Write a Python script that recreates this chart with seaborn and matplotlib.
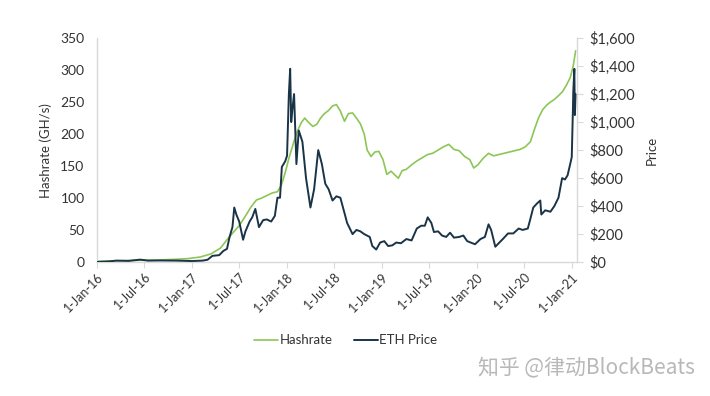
import pandas as pd
import seaborn as sns
import matplotlib.pyplot as plt
import matplotlib.dates as mdates
from matplotlib.ticker import FuncFormatter, MultipleLocator

# hashrate series (GH/s)
hash_dates = [
    "2016-01-01", "2016-03-01", "2016-05-01", "2016-07-01", "2016-09-01", "2016-11-01",
    "2016-12-15", "2017-02-01", "2017-03-15", "2017-04-20", "2017-05-15", "2017-06-05",
    "2017-07-01", "2017-07-25", "2017-08-15", "2017-09-05", "2017-09-25", "2017-10-15",
    "2017-11-05", "2017-11-25", "2017-12-10", "2017-12-25", "2018-01-10", "2018-01-25",
    "2018-02-10", "2018-02-25", "2018-03-10", "2018-03-25", "2018-04-10", "2018-04-25",
    "2018-05-10", "2018-05-25", "2018-06-10", "2018-06-25", "2018-07-10", "2018-07-25",
    "2018-08-10", "2018-08-25", "2018-09-10", "2018-09-25", "2018-10-10", "2018-10-25",
    "2018-11-05", "2018-11-20", "2018-12-05", "2018-12-20", "2019-01-05", "2019-01-20",
    "2019-02-05", "2019-02-20", "2019-03-05", "2019-03-20", "2019-04-05", "2019-04-25",
    "2019-05-15", "2019-06-05", "2019-06-25", "2019-07-15", "2019-08-05", "2019-08-25",
    "2019-09-15", "2019-10-05", "2019-10-25", "2019-11-15", "2019-12-05", "2019-12-20",
    "2020-01-05", "2020-01-25", "2020-02-15", "2020-03-05", "2020-03-25", "2020-04-15",
    "2020-05-05", "2020-05-25", "2020-06-15", "2020-07-05", "2020-07-25", "2020-08-10",
    "2020-08-25", "2020-09-10", "2020-09-25", "2020-10-10", "2020-10-25", "2020-11-10",
    "2020-11-25", "2020-12-10", "2020-12-25", "2021-01-05", "2021-01-15",
]
hash_vals = [
    1.5, 2, 2.5, 3, 3.5, 4.5,
    5.5, 8, 13, 22, 35, 45,
    57, 72, 86, 97, 100, 104,
    108, 110, 120, 140, 165, 185,
    205, 218, 225, 218, 212, 215,
    225, 232, 237, 244, 246, 236,
    220, 232, 233, 225, 216, 200,
    175, 165, 172, 173, 160, 137,
    142, 136, 131, 143, 145, 152,
    158, 163, 168, 170, 175, 180,
    184, 176, 174, 165, 160, 147,
    152, 162, 170, 166, 168, 170,
    172, 174, 176, 180, 188, 208,
    225, 238, 245, 250, 254, 260,
    266, 276, 288, 305, 330,
]

# ETH price series (USD)
price_dates = [
    "2016-01-01", "2016-02-15", "2016-03-15", "2016-05-01", "2016-06-15", "2016-07-15",
    "2016-09-01", "2016-11-01", "2017-01-01", "2017-02-10", "2017-03-01", "2017-03-20",
    "2017-04-15", "2017-05-01", "2017-05-15", "2017-05-25", "2017-06-05", "2017-06-12",
    "2017-06-20", "2017-07-01", "2017-07-16", "2017-07-25", "2017-08-10", "2017-08-20",
    "2017-09-01", "2017-09-15", "2017-10-01", "2017-10-15", "2017-11-01", "2017-11-15",
    "2017-11-25", "2017-12-05", "2017-12-12", "2017-12-25", "2018-01-01", "2018-01-08",
    "2018-01-13", "2018-01-17", "2018-01-22", "2018-01-28", "2018-02-06", "2018-02-15",
    "2018-03-01", "2018-03-15", "2018-04-01", "2018-04-15", "2018-05-01", "2018-05-15",
    "2018-05-28", "2018-06-10", "2018-06-25", "2018-07-10", "2018-07-25", "2018-08-10",
    "2018-08-20", "2018-09-10", "2018-09-25", "2018-10-10", "2018-10-25", "2018-11-15",
    "2018-11-25", "2018-12-10", "2018-12-25", "2019-01-10", "2019-01-25", "2019-02-10",
    "2019-02-25", "2019-03-15", "2019-04-05", "2019-04-25", "2019-05-15", "2019-06-01",
    "2019-06-15", "2019-06-26", "2019-07-10", "2019-07-20", "2019-08-05", "2019-08-20",
    "2019-09-05", "2019-09-20", "2019-10-05", "2019-10-25", "2019-11-10", "2019-11-25",
    "2019-12-15", "2019-12-25", "2020-01-15", "2020-02-01", "2020-02-15", "2020-02-25",
    "2020-03-12", "2020-03-25", "2020-04-10", "2020-04-30", "2020-05-20", "2020-06-10",
    "2020-06-25", "2020-07-15", "2020-07-25", "2020-08-05", "2020-08-20", "2020-09-01",
    "2020-09-05", "2020-09-20", "2020-10-10", "2020-10-25", "2020-11-10", "2020-11-24",
    "2020-12-05", "2020-12-15", "2020-12-25", "2020-12-31", "2021-01-04", "2021-01-06",
    "2021-01-10", "2021-01-12", "2021-01-15",
]
price_vals = [
    1, 5, 11, 9, 18, 11,
    12, 11, 8, 11, 17, 45,
    50, 80, 95, 180, 250, 390,
    340, 290, 160, 220, 290, 320,
    380, 250, 300, 305, 290, 330,
    460, 460, 680, 720, 760, 1200,
    1380, 1000, 1100, 1200, 700, 940,
    860, 600, 390, 520, 800, 700,
    560, 520, 440, 470, 460, 350,
    280, 200, 230, 220, 200, 180,
    115, 90, 140, 150, 115, 120,
    140, 135, 165, 155, 240, 260,
    260, 320, 280, 215, 220, 190,
    180, 210, 175, 180, 190, 150,
    135, 128, 165, 180, 270, 230,
    110, 135, 165, 205, 205, 240,
    230, 240, 310, 390, 420, 440,
    340, 370, 360, 400, 460, 600,
    590, 620, 700, 750, 1050, 1220,
    1380, 1050, 1200,
]

hash_df = pd.DataFrame({"date": pd.to_datetime(hash_dates), "value": hash_vals})
price_df = pd.DataFrame({"date": pd.to_datetime(price_dates), "value": price_vals})

GREEN = "#8cc656"
NAVY = "#1a3447"
AXIS = "#d9d9d9"
TEXT = "#333333"

sns.set_style("white")
plt.rcParams["font.family"] = ["Lato", "DejaVu Sans"]

fig = plt.figure(figsize=(7.1, 3.96), dpi=100)
ax = fig.add_axes([0.1366, 0.338, 0.676, 0.566])
ax2 = ax.twinx()

sns.lineplot(data=hash_df, x="date", y="value", ax=ax, color=GREEN, linewidth=1.2, label="Hashrate")
sns.lineplot(data=price_df, x="date", y="value", ax=ax2, color=NAVY, linewidth=1.4, label="ETH Price")

# axes limits and ticks
ax.set_xlim(pd.Timestamp("2016-01-01"), pd.Timestamp("2021-01-20"))
ax.set_ylim(0, 350)
ax2.set_ylim(0, 1600)
ax.yaxis.set_major_locator(MultipleLocator(50))
ax2.yaxis.set_major_locator(MultipleLocator(200))
ax.xaxis.set_major_locator(mdates.MonthLocator(bymonth=[1, 7]))
ax.xaxis.set_major_formatter(FuncFormatter(
    lambda v, p: "{}-{}".format(mdates.num2date(v).day, mdates.num2date(v).strftime("%b-%y"))))
ax2.yaxis.set_major_formatter(FuncFormatter(lambda v, p: "${:,.0f}".format(v)))

for a in (ax, ax2):
    a.spines["top"].set_visible(False)
    for s in ("left", "right", "bottom"):
        a.spines[s].set_color(AXIS)
        a.spines[s].set_linewidth(1.0)
ax.spines["right"].set_visible(False)
ax2.spines["left"].set_visible(False)
ax2.spines["bottom"].set_visible(False)

ax.tick_params(axis="y", length=0, pad=9, labelsize=10, labelcolor=TEXT)
ax.tick_params(axis="x", length=4, color=AXIS, pad=2, labelsize=9, labelcolor=TEXT, bottom=True)
ax2.tick_params(axis="y", length=4, color=AXIS, pad=5, labelsize=10.5, labelcolor=TEXT, right=True)
for lbl in ax.get_xticklabels():
    lbl.set_rotation(45)
    lbl.set_ha("right")
    lbl.set_rotation_mode("anchor")

ax.set_xlabel("")
ax.set_ylabel("Hashrate (GH/s)", fontsize=9.5, color=TEXT, labelpad=6)
ax2.set_ylabel("Price", fontsize=9.5, color=TEXT, labelpad=8)

# single legend under the plot
h1, l1 = ax.get_legend_handles_labels()
h2, l2 = ax2.get_legend_handles_labels()
ax.get_legend().remove()
ax2.get_legend().remove()
fig.legend(h1 + h2, l1 + l2, loc="center", bbox_to_anchor=(0.487, 0.141), ncol=2, frameon=False,
           fontsize=9.5, handlelength=1.8, handletextpad=0.15, columnspacing=1.6, labelcolor=TEXT)

# watermark
fig.text(0.978, 0.073, "知乎 @律动BlockBeats", ha="right", va="center", fontsize=15,
         color="#b8b8b8", family=["Noto Sans CJK SC", "DejaVu Sans"])

fig.savefig("out.png", dpi=100)
